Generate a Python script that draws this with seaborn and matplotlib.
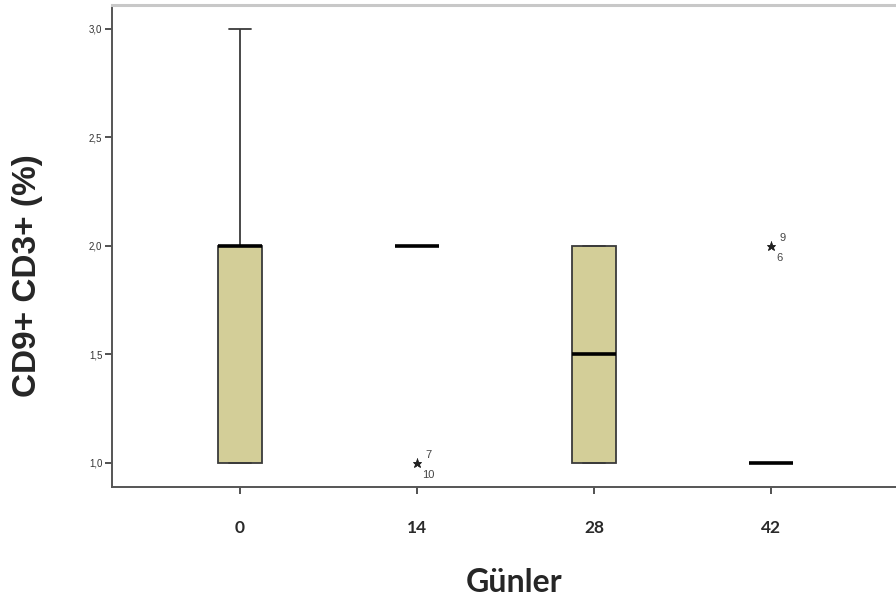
import matplotlib
matplotlib.use("Agg")
import matplotlib.pyplot as plt
import seaborn as sns
import pandas as pd

# Measurements per sampling day
days = ["0", "14", "28", "42"]
values_day0 = [1, 1, 1, 2, 2, 2, 2, 3]
values_day14 = [2, 2, 2, 2, 2, 2, 2, 2, 1, 1]
values_day28 = [1, 1, 1, 1, 2, 2, 2, 2]
values_day42 = [1, 1, 1, 1, 1, 1, 1, 1, 2, 2]

# Extreme values and their case numbers (upper label, lower label)
outlier_days = ["14", "42"]
outlier_values = [1.0, 2.0]
outlier_case_upper = ["7", "9"]
outlier_case_lower = ["10", "6"]

y_ticks = [1.0, 1.5, 2.0, 2.5, 3.0]
y_tick_labels = ["1,0", "1,5", "2,0", "2,5", "3,0"]

rows = []
for d, vals in zip(days, [values_day0, values_day14, values_day28, values_day42]):
    rows += [{"Günler": d, "value": v} for v in vals]
df = pd.DataFrame(rows)

sns.set_style("white")
fig = plt.figure(figsize=(8.96, 6.08), dpi=100)
ax = fig.add_axes([112 / 896, (608 - 487) / 608, 786 / 896, 482 / 608])

edge = "#3a3a3a"
sns.boxplot(
    data=df, x="Günler", y="value", order=days, ax=ax,
    color="#d3ce98", saturation=1, width=0.245,
    linewidth=1.3, linecolor=edge,
    medianprops=dict(color="black", linewidth=2.6),
    flierprops=dict(marker="*", markersize=6.5, markerfacecolor="#222222",
                    markeredgecolor="#222222", markeredgewidth=0.4),
    capprops=dict(color=edge, linewidth=1.3),
)

# Case numbers next to the extreme values
for d, v, up, lo in zip(outlier_days, outlier_values, outlier_case_upper, outlier_case_lower):
    xi = days.index(d)
    ax.annotate(up, (xi, v), xytext=(6, 5.5), textcoords="offset points",
                fontsize=8, color="#444444", ha="left", va="center",
                family="Liberation Sans")
    ax.annotate(lo, (xi, v), xytext=(4, -8.5), textcoords="offset points",
                fontsize=8, color="#444444", ha="left", va="center",
                family="Liberation Sans")

ax.set_xlim(-0.723, 3.718)
ax.set_ylim(0.889, 3.11)
ax.set_yticks(y_ticks)
ax.set_yticklabels(y_tick_labels, fontsize=7, family="Liberation Sans", color="#333333")
ax.set_xticks(range(len(days)))
ax.set_xticklabels(days, fontsize=12.5, family="Lato", fontweight="bold", color="#2a2a2a")
ax.tick_params(axis="y", direction="out", length=5, width=1.2, color="#333333", pad=2, left=True)
ax.tick_params(axis="x", direction="out", length=5, width=1.2, color="#333333", pad=19, bottom=True)

ax.set_ylabel("CD9+ CD3+ (%)", fontsize=24, fontweight="bold", family="Liberation Sans")
ax.yaxis.set_label_coords(-0.088, 0.438)
ax.set_xlabel("Günler", fontsize=23, fontweight="bold", family="Lato")
ax.xaxis.set_label_coords(0.511, -0.168)

for side in ["left", "bottom"]:
    ax.spines[side].set_color("#555555")
    ax.spines[side].set_linewidth(1.4)
ax.spines["top"].set_color("#c8c8c8")
ax.spines["top"].set_linewidth(2.2)
ax.spines["right"].set_visible(False)

fig.savefig("out.png", dpi=100)
